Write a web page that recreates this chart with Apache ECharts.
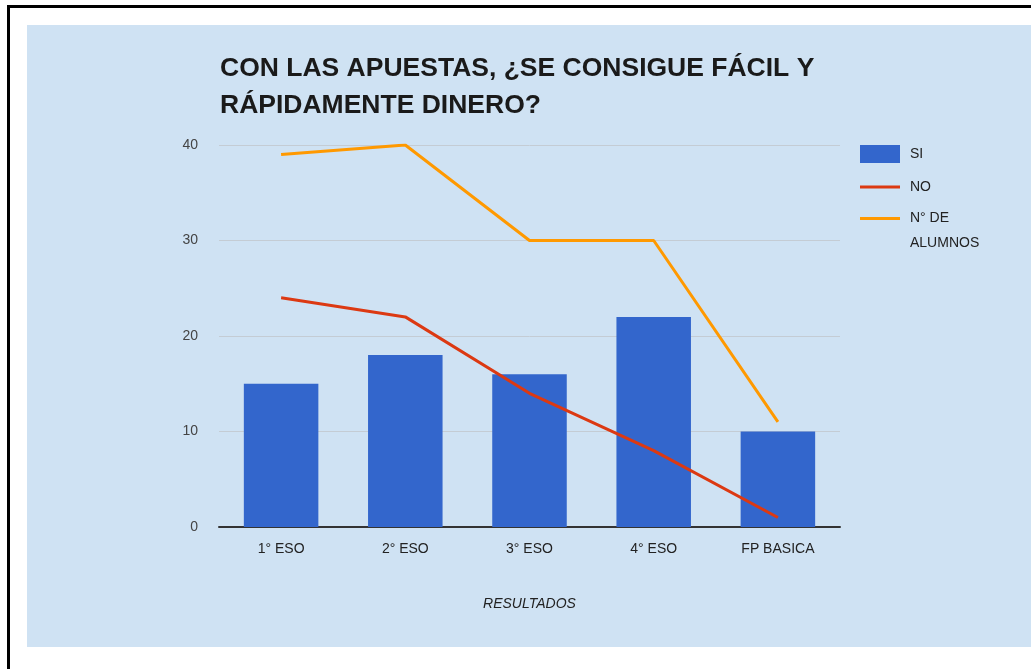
<!DOCTYPE html>
<html>
<head>
<meta charset="utf-8">
<script src="https://cdn.jsdelivr.net/npm/echarts@6/dist/echarts.min.js"></script>
<style>
  html, body { margin: 0; padding: 0; background: #fff; }
  body { width: 1031px; height: 669px; position: relative; overflow: hidden; }
  #frame { position: absolute; left: 7px; top: 5px; right: 0; bottom: 0;
           border-left: 3px solid #000; border-top: 3px solid #000; }
  #main { position: absolute; left: 27px; top: 25px; width: 1004px; height: 622px; }
</style>
</head>
<body>
<div id="frame"></div>
<div id="main"></div>
<script>
// datos
var categorias = ['1° ESO', '2° ESO', '3° ESO', '4° ESO', 'FP BASICA'];
var si = [15, 18, 16, 22, 10];
var no = [24, 22, 14, 8, 1];
var alumnos = [39, 40, 30, 30, 11];

var myChart = echarts.init(document.getElementById('main'));
var fuente = 'Arial, "Liberation Sans", sans-serif';
var textoLeyenda = { fontFamily: fuente, fontSize: 14, color: '#222', lineHeight: 16, padding: [0, 0, 0, 5] };

var option = {
  backgroundColor: '#cfe2f3',
  animation: false,
  textStyle: { fontFamily: fuente },
  title: {
    text: 'CON LAS APUESTAS, ¿SE CONSIGUE FÁCIL Y\nRÁPIDAMENTE DINERO?',
    left: 188,
    top: 20,
    textStyle: {
      fontFamily: fuente,
      fontSize: 26.5,
      fontWeight: 'bold',
      color: '#1a1a1a',
      lineHeight: 37
    }
  },
  legend: [
    {
      left: 833,
      top: 120,
      padding: 0,
      itemWidth: 40,
      itemHeight: 18,
      textStyle: textoLeyenda,
      data: [{ name: 'SI', icon: 'rect' }]
    },
    {
      left: 833,
      top: 154,
      padding: 0,
      itemWidth: 40,
      itemHeight: 3,
      textStyle: textoLeyenda,
      data: [{ name: 'NO', icon: 'rect' }]
    },
    {
      left: 833,
      top: 156,
      padding: 0,
      itemWidth: 40,
      itemHeight: 3,
      formatter: function () { return ' \nN° DE\nALUMNOS'; },
      textStyle: { fontFamily: fuente, fontSize: 14, color: '#222', lineHeight: 25, padding: [0, 0, 0, 5] },
      data: [{ name: 'N° DE ALUMNOS', icon: 'rect' }]
    }
  ],
  grid: {
    left: 192,
    right: 191,
    top: 120,
    bottom: 120
  },
  xAxis: {
    type: 'category',
    data: categorias,
    name: 'RESULTADOS',
    nameLocation: 'middle',
    nameGap: 70,
    nameTextStyle: { fontFamily: fuente, fontSize: 14, fontStyle: 'italic', color: '#222' },
    axisLine: { lineStyle: { color: '#333', width: 2 } },
    axisTick: { show: false },
    axisLabel: { fontSize: 14, color: '#222', margin: 15 }
  },
  yAxis: {
    type: 'value',
    min: 0,
    max: 40,
    interval: 10,
    axisLine: { show: false },
    axisTick: { show: false },
    axisLabel: { fontSize: 14, color: '#444', margin: 21 },
    splitLine: { lineStyle: { color: '#c4ccd4', width: 1 } }
  },
  series: [
    {
      name: 'SI',
      type: 'bar',
      data: si,
      barWidth: '60%',
      itemStyle: { color: '#3366cc' }
    },
    {
      name: 'NO',
      type: 'line',
      data: no,
      symbol: 'none',
      lineStyle: { color: '#dc3912', width: 3 },
      itemStyle: { color: '#dc3912' }
    },
    {
      name: 'N° DE ALUMNOS',
      type: 'line',
      data: alumnos,
      symbol: 'none',
      lineStyle: { color: '#ff9900', width: 3 },
      itemStyle: { color: '#ff9900' }
    }
  ]
};

myChart.setOption(option);
</script>
</body>
</html>
